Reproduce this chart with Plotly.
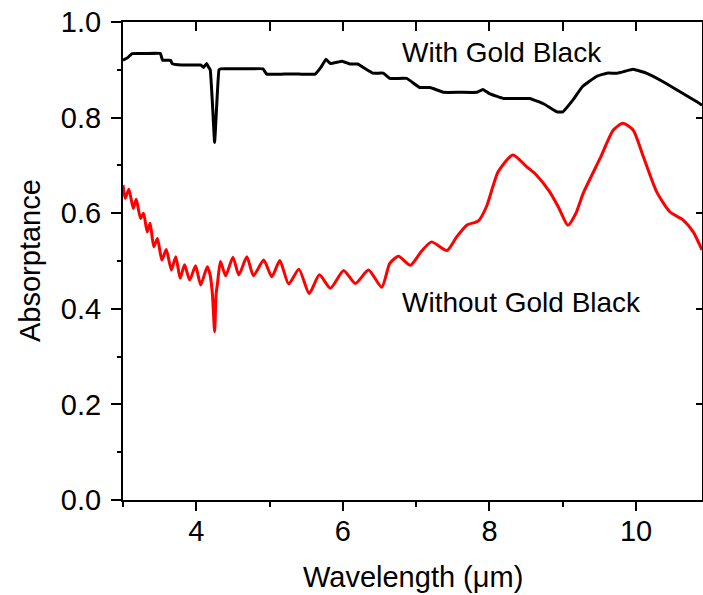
import plotly.graph_objects as go

# With Gold Black (black curve)
x_with = [3.0, 3.06, 3.125, 3.3, 3.51, 3.54, 3.65, 3.67, 3.8, 3.95, 4.06, 4.1, 4.14, 4.17, 4.19,
          4.22, 4.25, 4.28, 4.31, 4.33, 4.5, 4.7, 4.91, 4.96, 5.2, 5.4, 5.62, 5.7, 5.77, 5.83,
          5.99, 6.1, 6.2, 6.41, 6.55, 6.64, 6.87, 7.05, 7.19, 7.37, 7.6, 7.83, 7.91, 8.0, 8.19,
          8.4, 8.55, 8.75, 8.92, 9.0, 9.14, 9.27, 9.46, 9.6, 9.74, 9.85, 9.96, 10.14, 10.37, 10.6,
          10.83, 10.9]
y_with = [0.920, 0.925, 0.934, 0.934, 0.934, 0.920, 0.920, 0.913, 0.910, 0.910, 0.910, 0.905, 0.913, 0.905, 0.900,
          0.830, 0.748, 0.830, 0.900, 0.902, 0.902, 0.902, 0.902, 0.891, 0.891, 0.891, 0.891, 0.905, 0.922, 0.913,
          0.918, 0.912, 0.912, 0.893, 0.893, 0.882, 0.882, 0.863, 0.863, 0.853, 0.853, 0.853, 0.859, 0.850, 0.840,
          0.840, 0.840, 0.828, 0.812, 0.812, 0.837, 0.865, 0.886, 0.893, 0.893, 0.897, 0.901, 0.893, 0.875, 0.854,
          0.833, 0.826]

# Without Gold Black (red curve)
x_without = [3.0, 3.03, 3.08, 3.14, 3.18, 3.24, 3.28, 3.33, 3.37, 3.42, 3.47, 3.53, 3.59, 3.66, 3.72,
             3.78, 3.84, 3.91, 3.99, 4.06, 4.15, 4.19, 4.22, 4.25, 4.27, 4.29, 4.33, 4.40, 4.50, 4.58,
             4.69, 4.78, 4.92, 5.03, 5.14, 5.26, 5.40, 5.54, 5.68, 5.83, 6.01, 6.17, 6.35, 6.53, 6.64,
             6.76, 6.92, 7.07, 7.21, 7.42, 7.55, 7.69, 7.85, 7.96, 8.12, 8.32, 8.51, 8.64, 8.82, 8.95,
             9.07, 9.18, 9.28, 9.51, 9.69, 9.82, 9.96, 10.10, 10.28, 10.46, 10.64, 10.78, 10.9]
y_without = [0.659, 0.631, 0.650, 0.610, 0.629, 0.589, 0.600, 0.561, 0.579, 0.530, 0.547, 0.502, 0.524, 0.481, 0.509,
             0.464, 0.492, 0.460, 0.490, 0.450, 0.488, 0.470, 0.430, 0.352, 0.430, 0.454, 0.499, 0.469, 0.508, 0.471,
             0.509, 0.469, 0.502, 0.467, 0.501, 0.452, 0.483, 0.432, 0.471, 0.443, 0.480, 0.453, 0.481, 0.445, 0.495,
             0.510, 0.491, 0.520, 0.540, 0.522, 0.550, 0.575, 0.584, 0.614, 0.687, 0.722, 0.697, 0.680, 0.645, 0.610,
             0.575, 0.600, 0.642, 0.715, 0.774, 0.788, 0.774, 0.718, 0.645, 0.603, 0.586, 0.561, 0.523]

label_with = "With Gold Black"
label_without = "Without Gold Black"
x_title = "Wavelength (μm)"
y_title = "Absorptance"

FONT = "Liberation Sans, Arial, sans-serif"
XR = [3, 10.9]

fig = go.Figure()
fig.add_trace(go.Scatter(x=x_with, y=y_with, mode="lines",
                         line=dict(color="black", width=3, shape="spline", smoothing=0.3),
                         showlegend=False, hoverinfo="skip"))
fig.add_trace(go.Scatter(x=x_without, y=y_without, mode="lines",
                         line=dict(color="#ff0000", width=3, shape="spline", smoothing=0.6),
                         showlegend=False, hoverinfo="skip"))
# dummy trace for mirrored top/right axes
fig.add_trace(go.Scatter(x=XR, y=[0, 1], xaxis="x2", yaxis="y2", mode="lines",
                         line=dict(width=0), opacity=0, showlegend=False, hoverinfo="skip"))

fig.add_annotation(x=6.78, y=0.937, text=label_with, showarrow=False, xanchor="left",
                   yanchor="middle", font=dict(family=FONT, size=28, color="black"))
fig.add_annotation(x=6.78, y=0.414, text=label_without, showarrow=False, xanchor="left",
                   yanchor="middle", font=dict(family=FONT, size=28, color="black"))
# axis titles
fig.add_annotation(xref="paper", yref="paper", x=0.5, y=0, yshift=-77, text=x_title,
                   showarrow=False, xanchor="center", yanchor="middle",
                   font=dict(family=FONT, size=29, color="black"))
fig.add_annotation(xref="paper", yref="paper", x=0, xshift=-93, y=0.5, text=y_title,
                   showarrow=False, xanchor="center", yanchor="middle", textangle=-90,
                   font=dict(family=FONT, size=29, color="black"))

fig.update_layout(
    width=703, height=595, autosize=False,
    margin=dict(l=123, r=1, t=22, b=95, autoexpand=False),
    plot_bgcolor="white", paper_bgcolor="white",
    font=dict(family=FONT, color="black"),
    xaxis=dict(range=XR, showgrid=False, zeroline=False, showline=True, linecolor="black",
               linewidth=2, ticks="outside", ticklen=9, tickwidth=2, tickcolor="black",
               tick0=0, dtick=2, tickfont=dict(size=29), automargin=False, ticklabelstandoff=-5,
               minor=dict(ticks="outside", dtick=1, tick0=0, ticklen=5, tickwidth=2, tickcolor="black")),
    yaxis=dict(range=[0, 1], showgrid=False, zeroline=False, showline=True, linecolor="black",
               linewidth=2, ticks="outside", ticklen=10, tickwidth=2, tickcolor="black",
               tick0=0, dtick=0.2, tickformat=".1f", tickfont=dict(size=29), automargin=False,
               ticklabelstandoff=4,
               minor=dict(ticks="outside", dtick=0.1, tick0=0, ticklen=4, tickwidth=2, tickcolor="black")),
    xaxis2=dict(range=XR, overlaying="x", side="top", anchor="y2", showgrid=False, zeroline=False,
                showline=True, linecolor="black", linewidth=2, ticks="inside", ticklen=9,
                tickwidth=2, tickcolor="black", tick0=0, dtick=1, showticklabels=False, automargin=False),
    yaxis2=dict(range=[0, 1], overlaying="y", side="right", anchor="x2", showgrid=False, zeroline=False,
                showline=True, linecolor="black", linewidth=2, ticks="inside", ticklen=6,
                tickwidth=2, tickcolor="black", tick0=0, dtick=0.2, showticklabels=False, automargin=False),
)

post = ("document.body.style.margin='0';document.body.style.padding='0';"
        "document.body.style.overflow='hidden';"
        "var gd=document.getElementById('{plot_id}');"
        "Plotly.relayout(gd,{width:703,height:595});")

fig.write_html("out.html", config={"responsive": False, "displayModeBar": False}, post_script=post)
